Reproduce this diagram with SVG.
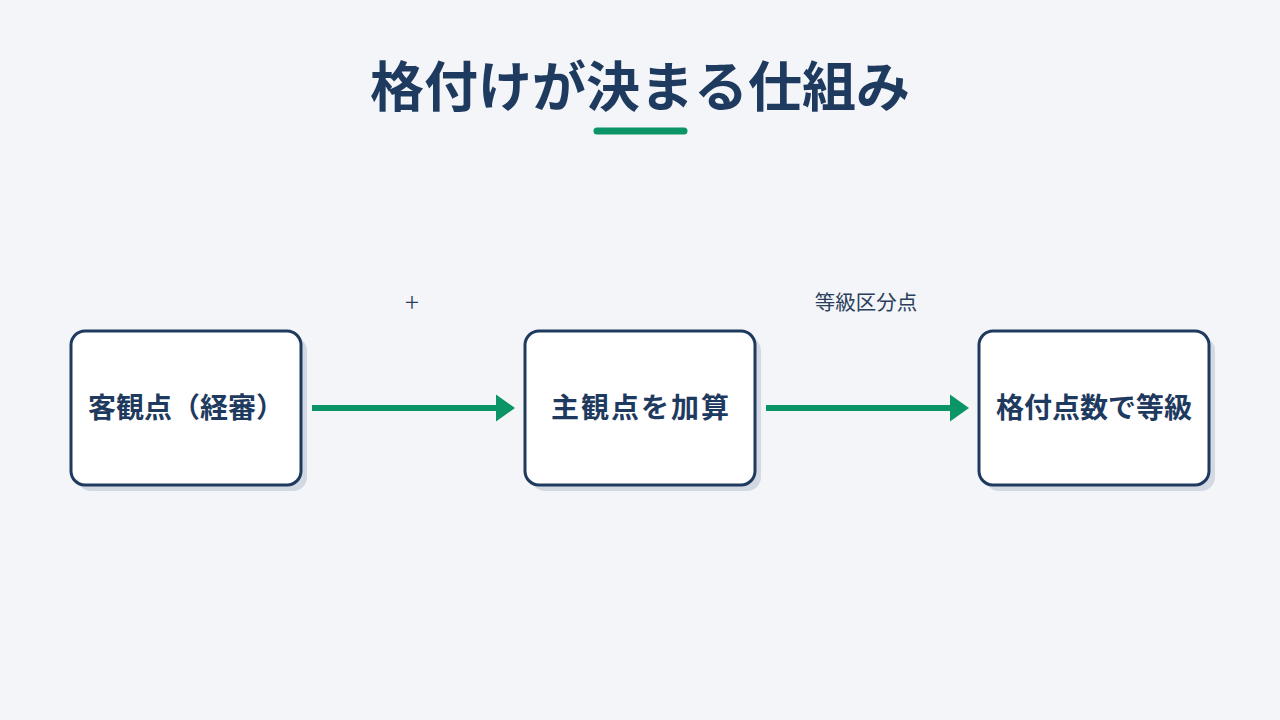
<svg xmlns="http://www.w3.org/2000/svg" width="1280" height="720" viewBox="0 0 1280 720">
  <defs>
    <style>
      .title { font-family: "Noto Sans CJK JP", "Noto Sans", sans-serif; font-weight: 700; font-size: 54px; fill: #1f3a5f; }
      .node-shadow { fill: #d3d9e2; }
      .node-box { fill: #ffffff; stroke: #1f3a5f; stroke-width: 3; }
      .node-text { font-family: "Noto Sans CJK JP", "Noto Sans", sans-serif; font-weight: 700; font-size: 28px; fill: #1f3a5f; }
      .edge { stroke: #0b9466; stroke-width: 6; fill: none; }
      .arrowhead { fill: #0b9466; }
      .edge-label { font-family: "Noto Sans CJK JP", "Noto Sans", sans-serif; font-weight: 400; font-size: 20.5px; fill: #2b3f5c; }
      .plus { font-family: "Noto Sans CJK JP", "Noto Sans", sans-serif; font-weight: 300; font-size: 26px; fill: #2b3f5c; }
    </style>
  </defs>
  <rect width="1280" height="720" fill="#f3f5f8"/>

  <g id="title">
    <text class="title" x="640" y="107" text-anchor="middle">格付けが決まる仕組み</text>
    <line x1="597" y1="131" x2="684" y2="131" stroke="#0b9466" stroke-width="7" stroke-linecap="round"/>
  </g>

  <g id="connectors">
    <line class="edge" x1="312" y1="408" x2="498" y2="408"/>
    <polygon class="arrowhead" points="496,394.5 515,408 496,421.5"/>
    <line class="edge" x1="766" y1="408" x2="952" y2="408"/>
    <polygon class="arrowhead" points="950,394.5 969,408 950,421.5"/>
    <text class="plus" x="412" y="312" text-anchor="middle">+</text>
    <text class="edge-label" x="866" y="310" text-anchor="middle">等級区分点</text>
  </g>

  <g id="node-objective">
    <rect class="node-shadow" x="77" y="337" width="230" height="154" rx="14"/>
    <rect class="node-box" x="71" y="331" width="230" height="154" rx="14"/>
    <text class="node-text" x="186" y="418" text-anchor="middle">客観点（経審）</text>
  </g>

  <g id="node-subjective">
    <rect class="node-shadow" x="531" y="337" width="230" height="154" rx="14"/>
    <rect class="node-box" x="525" y="331" width="230" height="154" rx="14"/>
    <text class="node-text" x="641" y="418" text-anchor="middle" letter-spacing="2">主観点を加算</text>
  </g>

  <g id="node-grade">
    <rect class="node-shadow" x="985" y="337" width="230" height="154" rx="14"/>
    <rect class="node-box" x="979" y="331" width="230" height="154" rx="14"/>
    <text class="node-text" x="1094" y="418" text-anchor="middle">格付点数で等級</text>
  </g>
</svg>
